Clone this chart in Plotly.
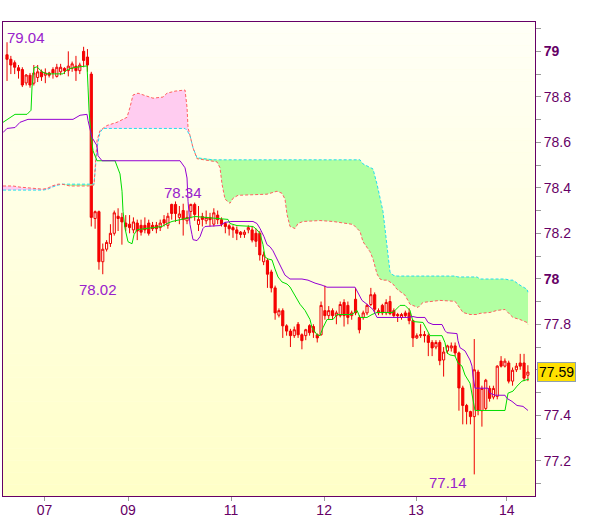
import plotly.graph_objects as go

# ---------------- data ----------------
opens = [78.985, 78.965, 78.95, 78.928, 78.92, 78.861, 78.895, 78.86, 78.885, 78.91,
         78.895, 78.905, 78.92, 78.89, 78.91, 78.925, 78.915, 78.925, 78.935, 78.915,
         79.00, 78.975, 78.90, 78.265, 78.295, 78.075, 78.13, 78.155, 78.20, 78.275,
         78.27, 78.245, 78.24, 78.215, 78.245, 78.235, 78.235, 78.245, 78.235, 78.235,
         78.225, 78.26, 78.235, 78.327, 78.327, 78.27, 78.30, 78.255, 78.296, 78.327,
         78.239, 78.274, 78.255, 78.27, 78.24, 78.28, 78.26, 78.243, 78.233, 78.225,
         78.215, 78.205, 78.195, 78.215, 78.215, 78.20, 78.20, 78.075, 78.08, 78.03,
         77.96, 77.84, 77.86, 77.793, 77.77, 77.75, 77.80, 77.754, 77.75, 77.794,
         77.79, 77.754, 77.754, 77.86, 77.838, 77.86, 77.838, 77.838, 77.896, 77.883,
         77.838, 77.91, 77.83, 77.83, 77.85, 77.887, 77.93, 77.85, 77.883, 77.85,
         77.90, 77.86, 77.843, 77.83, 77.85, 77.85, 77.816, 77.74, 77.75, 77.755,
         77.75, 77.72, 77.70, 77.72, 77.643, 77.683, 77.696, 77.705, 77.674, 77.52,
         77.443, 77.416, 77.394, 77.59, 77.42, 77.43, 77.518, 77.48, 77.483, 77.638,
         77.616, 77.63, 77.55, 77.60, 77.63, 77.63, 77.576]
highs = [79.04, 78.98, 78.96, 78.94, 78.93, 78.90, 78.905, 78.94, 78.94, 78.92,
         78.925, 78.91, 78.93, 78.945, 78.945, 78.93, 79.00, 78.955, 78.98, 78.95,
         79.02, 79.01, 78.91, 78.30, 78.30, 78.155, 78.17, 78.24, 78.30, 78.31,
         78.29, 78.28, 78.28, 78.27, 78.26, 78.26, 78.27, 78.26, 78.25, 78.25,
         78.26, 78.28, 78.29, 78.33, 78.34, 78.32, 78.33, 78.30, 78.33, 78.335,
         78.32, 78.29, 78.30, 78.29, 78.31, 78.30, 78.27, 78.25, 78.24, 78.235,
         78.23, 78.21, 78.215, 78.235, 78.23, 78.22, 78.21, 78.12, 78.09, 78.04,
         77.97, 77.87, 77.87, 77.80, 77.78, 77.79, 77.81, 77.76, 77.78, 77.80,
         77.80, 77.76, 77.90, 77.97, 77.88, 77.87, 77.86, 77.90, 77.91, 77.90,
         77.86, 77.96, 77.84, 77.86, 77.89, 77.96, 77.94, 77.87, 77.89, 77.91,
         77.925, 77.87, 77.85, 77.85, 77.86, 77.87, 77.82, 77.76, 77.80, 77.77,
         77.76, 77.73, 77.73, 77.73, 77.70, 77.71, 77.72, 77.72, 77.68, 77.53,
         77.45, 77.42, 77.735, 77.60, 77.53, 77.56, 77.53, 77.53, 77.62, 77.66,
         77.65, 77.64, 77.61, 77.63, 77.67, 77.67, 77.62]
lows = [78.87, 78.90, 78.90, 78.88, 78.843, 78.85, 78.84, 78.85, 78.865, 78.87,
        78.86, 78.885, 78.88, 78.885, 78.895, 78.90, 78.89, 78.91, 78.87, 78.90,
        78.93, 78.91, 78.23, 78.22, 78.04, 78.02, 78.12, 78.14, 78.19, 78.21,
        78.15, 78.21, 78.20, 78.20, 78.17, 78.19, 78.20, 78.19, 78.21, 78.20,
        78.21, 78.23, 78.22, 78.26, 78.25, 78.24, 78.19, 78.24, 78.265, 78.255,
        78.21, 78.23, 78.24, 78.23, 78.23, 78.24, 78.23, 78.20, 78.19, 78.18,
        78.17, 78.18, 78.18, 78.20, 78.16, 78.14, 78.08, 78.06, 77.96, 77.94,
        77.82, 77.83, 77.74, 77.75, 77.70, 77.74, 77.74, 77.69, 77.73, 77.75,
        77.74, 77.72, 77.75, 77.82, 77.82, 77.82, 77.80, 77.83, 77.79, 77.80,
        77.82, 77.84, 77.76, 77.82, 77.84, 77.88, 77.85, 77.84, 77.84, 77.84,
        77.84, 77.83, 77.81, 77.82, 77.83, 77.80, 77.70, 77.735, 77.74, 77.72,
        77.66, 77.66, 77.69, 77.62, 77.57, 77.67, 77.68, 77.66, 77.42, 77.36,
        77.36, 77.36, 77.14, 77.40, 77.35, 77.42, 77.46, 77.47, 77.47, 77.61,
        77.61, 77.54, 77.53, 77.59, 77.60, 77.55, 77.55]
closes = [78.965, 78.94, 78.93, 78.915, 78.852, 78.896, 78.852, 78.905, 78.91, 78.888,
          78.905, 78.895, 78.905, 78.93, 78.93, 78.915, 78.935, 78.945, 78.915, 78.94,
          78.96, 78.94, 78.27, 78.295, 78.075, 78.13, 78.16, 78.20, 78.29, 78.265,
          78.25, 78.23, 78.225, 78.25, 78.21, 78.205, 78.215, 78.20, 78.22, 78.22,
          78.245, 78.245, 78.275, 78.287, 78.287, 78.285, 78.26, 78.27, 78.327, 78.283,
          78.261, 78.261, 78.27, 78.26, 78.29, 78.26, 78.24, 78.23, 78.22, 78.215,
          78.20, 78.195, 78.205, 78.225, 78.17, 78.165, 78.105, 78.105, 78.02, 77.96,
          77.85, 77.86, 77.793, 77.77, 77.75, 77.776, 77.754, 77.728, 77.776, 77.763,
          77.765, 77.74, 77.883, 77.838, 77.86, 77.838, 77.85, 77.887, 77.838, 77.83,
          77.85, 77.85, 77.776, 77.85, 77.883, 77.93, 77.866, 77.86, 77.85, 77.896,
          77.847, 77.838, 77.838, 77.843, 77.838, 77.816, 77.74, 77.75, 77.754, 77.75,
          77.72, 77.696, 77.72, 77.64, 77.678, 77.705, 77.705, 77.674, 77.52, 77.443,
          77.416, 77.394, 77.60, 77.42, 77.518, 77.554, 77.474, 77.518, 77.616, 77.616,
          77.638, 77.55, 77.598, 77.616, 77.616, 77.563, 77.59]
bar_index = list(range(len(opens)))

# conversion line (green)
tenkan_x = [-1.04, 0.78, 2.09, 5.22, 6.27, 6.53, 7.05, 7.83, 9.14, 10.44, 14.62, 15.67,
            17.23, 19.06, 20.89, 21.15, 21.41, 21.93, 22.45, 23.5, 28.2, 29.5, 30.03,
            30.29, 30.81, 31.59, 32.64, 33.16, 33.94, 40.47, 41.78, 43.08, 45.69, 49.09,
            57.7, 58.22, 60.05, 64.23, 65.27, 66.06, 66.84, 67.36, 68.15, 69.19, 69.97,
            70.76, 71.8, 73.11, 73.89, 75.2, 76.5, 77.81, 79.11, 79.63, 80.94, 81.72,
            82.51, 83.55, 85.12, 86.16, 90.08, 91.38, 92.17, 93.99, 95.3, 96.61, 100.78,
            102.61, 103.92, 105.22, 106.01, 108.62, 110.44, 113.58, 114.36, 114.88,
            115.67, 116.97, 117.75, 118.8, 119.58, 120.89, 121.67, 122.19, 130.03,
            130.81, 132.11, 133.16, 134.46, 135.25, 136.29]
tenkan_y = [78.688, 78.710, 78.723, 78.723, 78.741, 78.843, 78.928, 78.932, 78.910,
            78.901, 78.901, 78.919, 78.928, 78.932, 78.936, 78.843, 78.741, 78.630,
            78.563, 78.519, 78.519, 78.461, 78.385, 78.296, 78.221, 78.163, 78.154,
            78.194, 78.216, 78.230, 78.243, 78.252, 78.261, 78.274, 78.261, 78.243,
            78.234, 78.230, 78.216, 78.198, 78.150, 78.096, 78.087, 78.083, 78.043,
            78.008, 77.986, 77.977, 77.964, 77.928, 77.888, 77.861, 77.821, 77.785,
            77.754, 77.750, 77.785, 77.821, 77.821, 77.843, 77.843, 77.861, 77.830,
            77.830, 77.843, 77.852, 77.852, 77.883, 77.883, 77.861, 77.812, 77.808,
            77.750, 77.750, 77.719, 77.674, 77.665, 77.661, 77.630, 77.616, 77.577,
            77.541, 77.474, 77.421, 77.421, 77.497, 77.506, 77.528, 77.550, 77.554,
            77.559]

# base line (purple)
kijun_x = [-1.04, 0.0, 2.09, 3.39, 5.48, 17.23, 19.06, 20.89, 21.15, 22.19, 23.5, 23.76,
           24.8, 45.17, 46.48, 47.0, 47.26, 47.78, 48.3, 48.56, 49.61, 50.39, 51.17,
           51.7, 55.61, 56.92, 58.75, 64.23, 65.27, 66.06, 67.1, 67.89, 68.67, 69.45,
           70.5, 71.8, 72.58, 73.89, 77.02, 78.59, 80.42, 82.25, 83.55, 90.86, 91.64,
           92.69, 93.99, 95.56, 96.61, 104.44, 106.01, 107.05, 109.14, 109.92, 111.23,
           113.58, 114.36, 114.88, 117.49, 117.75, 118.28, 119.58, 120.89, 121.41,
           121.67, 122.19, 125.59, 126.11, 127.42, 130.03, 130.55, 131.85, 133.16,
           134.73, 136.03]
kijun_y = [78.643, 78.661, 78.665, 78.688, 78.701, 78.701, 78.719, 78.723, 78.696,
           78.621, 78.585, 78.541, 78.519, 78.519, 78.488, 78.443, 78.341, 78.239,
           78.194, 78.172, 78.168, 78.185, 78.221, 78.230, 78.234, 78.248, 78.252,
           78.252, 78.243, 78.221, 78.185, 78.150, 78.141, 78.123, 78.087, 78.043,
           78.016, 77.999, 77.999, 77.994, 77.981, 77.972, 77.963, 77.963, 77.941,
           77.905, 77.888, 77.865, 77.830, 77.830, 77.834, 77.830, 77.830, 77.808,
           77.799, 77.799, 77.772, 77.763, 77.759, 77.728, 77.697, 77.683, 77.643,
           77.616, 77.572, 77.519, 77.519, 77.497, 77.488, 77.488, 77.474, 77.461,
           77.443, 77.439, 77.421]

# cloud spans
cloud_x = [-1.04, 1.57, 3.39, 6.01, 9.40, 10.70, 11.75, 13.32, 14.36, 16.45, 21.15,
           22.72, 23.50, 24.28, 25.07, 26.11, 28.72, 31.33, 32.11, 32.90, 34.20, 36.55,
           38.12, 40.73, 41.78, 43.86, 46.48, 47.0, 47.26, 47.78, 48.56, 49.61, 53.79,
           54.83, 55.61, 56.14, 56.92, 58.22, 59.01, 60.31, 67.89, 70.50, 71.80, 72.58,
           73.11, 73.89, 75.20, 75.98, 77.28, 81.72, 85.12, 90.34, 92.17, 92.95, 94.78,
           95.56, 96.61, 97.39, 98.17, 98.69, 99.22, 100.0, 100.78, 101.83, 103.92,
           105.22, 107.31, 108.62, 113.05, 116.97, 117.75, 119.06, 120.89, 122.72,
           123.50, 126.11, 127.94, 130.03, 131.33, 132.11, 133.94, 135.77, 136.03]
span_a = [78.390, 78.390, 78.390, 78.390, 78.390, 78.394, 78.403, 78.412, 78.416, 78.416,
          78.416, 78.416, 78.576, 78.643, 78.661, 78.661, 78.661, 78.661, 78.661, 78.661,
          78.661, 78.661, 78.661, 78.661, 78.661, 78.661, 78.661, 78.652, 78.643, 78.630,
          78.576, 78.532, 78.523, 78.523, 78.523, 78.523, 78.523, 78.523, 78.523, 78.523,
          78.523, 78.523, 78.523, 78.523, 78.523, 78.523, 78.523, 78.523, 78.523, 78.523,
          78.523, 78.523, 78.523, 78.505, 78.492, 78.483, 78.416, 78.354, 78.296, 78.221,
          78.132, 78.030, 78.016, 78.012, 78.012, 78.012, 78.012, 78.012, 78.012, 78.012,
          78.008, 78.008, 78.008, 78.008, 77.999, 77.999, 77.999, 77.999, 77.994, 77.994,
          77.972, 77.954, 77.941]
span_b = [78.408, 78.408, 78.403, 78.399, 78.394, 78.399, 78.408, 78.416, 78.416, 78.408,
          78.408, 78.412, 78.608, 78.652, 78.661, 78.674, 78.688, 78.710, 78.754, 78.808,
          78.816, 78.803, 78.794, 78.799, 78.816, 78.825, 78.830, 78.754, 78.665, 78.630,
          78.576, 78.528, 78.519, 78.514, 78.488, 78.416, 78.350, 78.332, 78.354, 78.367,
          78.372, 78.385, 78.376, 78.350, 78.283, 78.230, 78.221, 78.243, 78.252, 78.256,
          78.252, 78.239, 78.208, 78.163, 78.119, 78.087, 78.021, 77.999, 77.994, 77.994,
          77.994, 77.986, 77.977, 77.954, 77.928, 77.888, 77.874, 77.896, 77.905, 77.901,
          77.883, 77.852, 77.843, 77.843, 77.848, 77.852, 77.861, 77.865, 77.843, 77.830,
          77.821, 77.808, 77.799]

x_tick_pos = [9.8, 31.6, 58.5, 82.8, 106.8, 130.5]
x_tick_text = ["07", "09", "11", "12", "13", "14"]
y_tick_vals = [77.1, 77.2, 77.3, 77.4, 77.5, 77.6, 77.7, 77.8, 77.9, 78.0, 78.1,
               78.2, 78.3, 78.4, 78.5, 78.6, 78.7, 78.8, 78.9, 79.0, 79.1]
# the 77.6 label sits under the last-price tag
y_tick_text = ["", "77.2", "", "77.4", "", "", "", "77.8", "", "<b>78</b>", "",
               "78.2", "", "78.4", "", "78.6", "", "78.8", "", "<b>79</b>", ""]

# ---------------- figure ----------------
PURPLE_TXT = "#660066"
LABEL_CLR = "#9922CC"
FONT = "Liberation Sans, Arial, sans-serif"

fig = go.Figure()

upper = [max(a, b) for a, b in zip(span_a, span_b)]
nol = dict(width=0)
fig.add_trace(go.Scatter(x=cloud_x, y=span_a, mode="lines", line=nol, hoverinfo="skip"))
fig.add_trace(go.Scatter(x=cloud_x, y=upper, mode="lines", line=nol, fill="tonexty",
                         fillcolor="rgb(255,204,240)", hoverinfo="skip"))
fig.add_trace(go.Scatter(x=cloud_x, y=span_b, mode="lines", line=nol, hoverinfo="skip"))
fig.add_trace(go.Scatter(x=cloud_x, y=upper, mode="lines", line=nol, fill="tonexty",
                         fillcolor="rgb(178,255,162)", hoverinfo="skip"))
fig.add_trace(go.Scatter(x=cloud_x, y=span_a, mode="lines",
                         line=dict(color="#22DDEE", width=1, dash="3px,2px")))
fig.add_trace(go.Scatter(x=cloud_x, y=span_b, mode="lines",
                         line=dict(color="#FF6060", width=1, dash="3px,2px")))

fig.add_trace(go.Candlestick(
    x=bar_index, open=opens, high=highs, low=lows, close=closes,
    increasing=dict(line=dict(color="#EE0000", width=1), fillcolor="#FFFFF0"),
    decreasing=dict(line=dict(color="#EE0000", width=1), fillcolor="#FF0000"),
    whiskerwidth=0, hoverinfo="skip"))

fig.add_trace(go.Scatter(x=tenkan_x, y=tenkan_y, mode="lines",
                         line=dict(color="#00DD00", width=1)))
fig.add_trace(go.Scatter(x=kijun_x, y=kijun_y, mode="lines",
                         line=dict(color="#9400D3", width=1)))

# gradient background of plot area
n_bands = 40
for k in range(n_bands):
    t = k / (n_bands - 1)
    b = int(round(246 - t * (246 - 200)))
    fig.add_shape(type="rect", xref="paper", yref="paper",
                  x0=0, x1=1, y0=1 - (k + 1) / n_bands, y1=1 - k / n_bands,
                  fillcolor=f"rgb(255,255,{b})", line=dict(width=0), layer="below")

# high / low annotations
i_max = max(range(len(highs)), key=lambda i: highs[i])
i_min = min(range(len(lows)), key=lambda i: lows[i])
fig.add_annotation(x=i_max, y=highs[i_max], text=f"{highs[i_max]:.2f}", showarrow=False,
                   xshift=19, yshift=5, font=dict(color=LABEL_CLR, size=15, family=FONT))
fig.add_annotation(x=44, y=highs[44], text=f"{highs[44]:.2f}", showarrow=False,
                   xshift=7, yshift=9, font=dict(color=LABEL_CLR, size=15, family=FONT))
fig.add_annotation(x=25, y=lows[25], text=f"{lows[25]:.2f}", showarrow=False,
                   xshift=-5, yshift=-15, font=dict(color=LABEL_CLR, size=15, family=FONT))
fig.add_annotation(x=i_min, y=lows[i_min], text=f"{lows[i_min]:.2f}", showarrow=False,
                   xshift=-26, yshift=-8, font=dict(color=LABEL_CLR, size=15, family=FONT))

# last price tag
fig.add_annotation(xref="paper", x=1, xanchor="left", xshift=2, y=closes[-1],
                   text=f"{closes[-1]:.2f}", showarrow=False, bgcolor="#FFE000",
                   bordercolor="#8FA0B0", borderwidth=1, borderpad=1,
                   font=dict(color="black", size=14, family=FONT))

fig.update_layout(
    width=600, height=519, autosize=False,
    margin=dict(l=3, r=65, t=22, b=23, pad=0, autoexpand=False),
    paper_bgcolor="white", plot_bgcolor="rgb(255,255,225)",
    showlegend=False, hovermode=False, boxgap=0.2,
    font=dict(family=FONT),
)
fig.update_xaxes(
    range=[-1.05, 137.86], tickmode="array", tickvals=x_tick_pos, ticktext=x_tick_text,
    ticks="outside", ticklen=4, tickcolor="#999999", showgrid=False, zeroline=False,
    showline=True, linecolor=PURPLE_TXT, linewidth=1, mirror=True, automargin=False,
    ticklabelstandoff=-3,
    tickfont=dict(color=PURPLE_TXT, size=14, family="Liberation Sans Narrow, " + FONT),
    rangeslider=dict(visible=False),
)
fig.update_yaxes(
    side="right", range=[77.045, 79.129], tickmode="array", tickvals=y_tick_vals,
    ticktext=y_tick_text, ticks="outside", ticklen=5, tickcolor="#999999",
    showgrid=False, zeroline=False, showline=True, linecolor=PURPLE_TXT, linewidth=1,
    mirror=True, automargin=False, tickfont=dict(color=PURPLE_TXT, size=14, family=FONT),
)

fig.write_html("out.html", config={"displayModeBar": False},
               post_script="document.body.style.margin='0px';"
                           "document.body.style.overflow='hidden';")
